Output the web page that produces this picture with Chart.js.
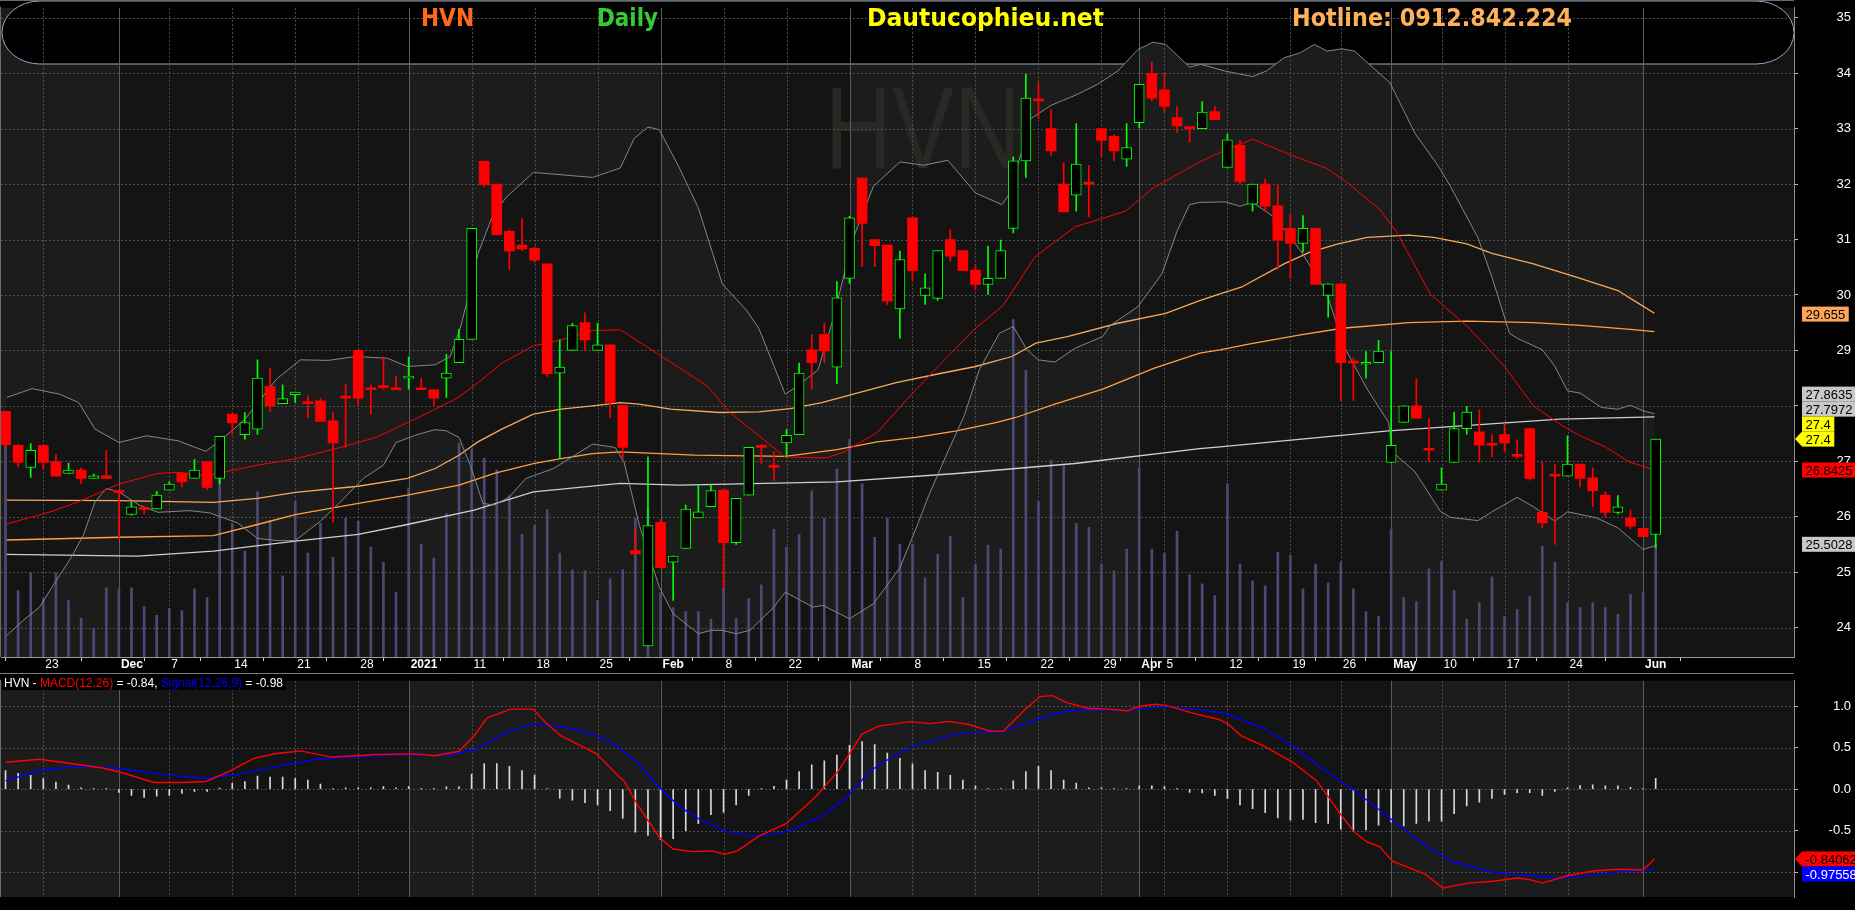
<!DOCTYPE html>
<html><head><meta charset="utf-8">
<script src="https://cdn.jsdelivr.net/npm/chart.js@4.4.0/dist/chart.umd.min.js"></script>
<style>
html,body{margin:0;padding:0;background:#000;width:1855px;height:910px;overflow:hidden}
#main{position:absolute;left:0;top:0}
#macd{position:absolute;left:0;top:673px}
</style></head><body>
<canvas id="main" width="1855" height="673"></canvas>
<canvas id="macd" width="1855" height="237"></canvas>
<script>
// ---------------- DATA ----------------
const dates = [
'2020-11-18','2020-11-19','2020-11-20','2020-11-23','2020-11-24','2020-11-25','2020-11-26','2020-11-27','2020-11-30',
'2020-12-01','2020-12-02','2020-12-03','2020-12-04','2020-12-07','2020-12-08','2020-12-09','2020-12-10','2020-12-11',
'2020-12-14','2020-12-15','2020-12-16','2020-12-17','2020-12-18','2020-12-21','2020-12-22','2020-12-23','2020-12-24',
'2020-12-25','2020-12-28','2020-12-29','2020-12-30','2020-12-31',
'2021-01-04','2021-01-05','2021-01-06','2021-01-07','2021-01-08','2021-01-11','2021-01-12','2021-01-13','2021-01-14',
'2021-01-15','2021-01-18','2021-01-19','2021-01-20','2021-01-21','2021-01-22','2021-01-25','2021-01-26','2021-01-27',
'2021-01-28','2021-01-29',
'2021-02-01','2021-02-02','2021-02-03','2021-02-04','2021-02-05','2021-02-08','2021-02-09','2021-02-17','2021-02-18',
'2021-02-19','2021-02-22','2021-02-23','2021-02-24','2021-02-25','2021-02-26',
'2021-03-01','2021-03-02','2021-03-03','2021-03-04','2021-03-05','2021-03-08','2021-03-09','2021-03-10','2021-03-11',
'2021-03-12','2021-03-15','2021-03-16','2021-03-17','2021-03-18','2021-03-19','2021-03-22','2021-03-23','2021-03-24',
'2021-03-25','2021-03-26','2021-03-29','2021-03-30','2021-03-31',
'2021-04-01','2021-04-02','2021-04-05','2021-04-06','2021-04-07','2021-04-08','2021-04-09','2021-04-12','2021-04-13',
'2021-04-14','2021-04-15','2021-04-16','2021-04-19','2021-04-20','2021-04-22','2021-04-23','2021-04-26','2021-04-27',
'2021-04-28','2021-04-29',
'2021-05-04','2021-05-05','2021-05-06','2021-05-07','2021-05-10','2021-05-11','2021-05-12','2021-05-13','2021-05-14',
'2021-05-17','2021-05-18','2021-05-19','2021-05-20','2021-05-21','2021-05-24','2021-05-25','2021-05-26','2021-05-27',
'2021-05-28','2021-05-31','2021-06-01','2021-06-02'];

const open = [27.9,27.29,26.89,27.29,26.99,26.78,26.84,26.69,26.74,26.44,
 26.04,26.13,26.14,26.48,26.79,26.69,26.99,26.69,27.85,27.48,
 27.58,28.35,28.04,28.2,28.04,28.09,27.73,28.14,29.0,28.29,
 28.33,28.29,28.5,28.29,28.29,28.5,28.78,29.2,32.41,32.0,
 31.15,30.9,30.84,30.56,28.59,29.0,29.5,29.0,29.1,28.01,
 25.39,23.67,25.9,25.18,25.43,25.98,26.18,26.48,25.53,26.39,
 27.25,26.89,27.33,27.48,29.01,29.29,28.7,30.3,32.11,31.0,
 30.9,29.75,31.39,29.99,29.94,31.0,30.8,30.45,30.19,30.3,
 31.2,32.42,33.5,33.0,32.0,31.8,32.0,33.0,32.86,32.45,
 33.11,34.0,33.7,33.2,33.0,33.0,33.31,32.3,32.7,31.64,
 32.0,31.61,31.2,30.93,31.2,29.99,30.2,28.77,28.75,28.78,
 26.98,27.7,28.0,27.2,26.48,26.98,27.59,27.53,27.29,27.48,
 27.09,27.59,26.08,26.73,26.73,26.95,26.7,26.39,26.08,25.98,
 25.79,25.68];
const high = [27.9,27.3,27.32,27.29,27.12,26.97,26.88,26.77,27.2,26.45,
 26.27,26.17,26.46,26.63,26.79,27.03,26.99,27.45,27.85,27.88,
 28.83,28.68,28.38,28.25,28.18,28.13,27.88,28.38,29.0,28.38,
 28.88,28.53,28.88,28.49,28.29,28.93,29.38,31.2,32.41,32.0,
 31.18,31.38,30.87,30.56,29.19,29.49,29.68,29.49,29.1,28.01,
 25.77,27.08,25.95,25.29,26.21,26.57,26.57,26.48,26.33,27.25,
 27.3,27.17,27.57,28.77,29.28,29.49,30.24,31.42,32.11,31.0,
 30.9,30.79,31.39,30.38,30.8,31.18,30.8,30.54,30.88,30.99,
 32.49,33.98,33.83,33.34,32.39,33.09,32.34,33.0,32.89,33.09,
 33.8,34.2,34.0,33.4,33.0,33.49,33.4,32.9,32.79,32.0,
 32.09,31.99,31.45,31.43,31.2,30.2,30.2,28.87,28.98,29.18,
 28.98,28.0,28.49,27.77,26.88,27.89,27.99,27.93,27.48,27.68,
 27.38,27.59,26.98,26.94,27.46,26.95,26.88,26.46,26.38,26.12,
 25.79,27.4];
const low = [27.25,26.9,26.71,26.85,26.73,26.78,26.6,26.69,26.69,25.61,
 26.03,26.05,26.14,26.48,26.54,26.69,26.49,26.59,27.49,27.4,
 27.49,27.9,28.04,28.06,27.79,27.72,25.9,27.25,28.01,27.85,
 28.3,28.29,28.3,28.29,28.01,28.15,28.78,29.2,31.96,31.08,
 30.46,30.8,30.59,28.53,27.05,29.0,29.0,29.0,27.79,27.05,
 25.33,23.67,25.08,24.49,25.43,25.98,26.18,24.7,25.5,26.39,
 26.96,26.65,27.08,27.48,28.3,28.79,28.4,30.21,30.51,30.51,
 29.83,29.22,30.26,29.83,29.9,30.61,30.44,30.09,30.01,30.3,
 31.12,32.12,33.18,32.52,31.5,31.51,31.41,32.51,32.42,32.32,
 33.02,33.5,33.31,32.93,32.76,33.0,33.16,32.3,32.0,31.51,
 31.51,30.46,30.3,30.77,30.19,29.6,28.09,28.1,28.5,28.78,
 26.98,27.7,27.78,26.99,26.48,26.98,27.49,26.99,27.08,27.18,
 27.05,26.66,25.8,25.5,26.73,26.54,26.18,25.99,26.05,25.78,
 25.64,25.44];
const close = [27.3,26.98,27.2,26.98,26.73,26.84,26.69,26.74,26.69,26.44,
 26.18,26.13,26.39,26.59,26.63,26.84,26.53,27.45,27.69,27.7,
 28.5,28.0,28.13,28.25,28.04,27.72,27.33,28.14,28.14,28.29,
 28.33,28.29,28.53,28.29,28.14,28.59,29.2,31.2,31.99,31.09,
 30.79,30.83,30.63,28.58,28.7,29.45,29.19,29.1,28.06,27.25,
 25.33,25.84,25.08,25.29,26.14,26.09,26.47,25.53,26.33,27.25,
 27.25,26.89,27.47,28.59,28.78,28.99,29.95,31.39,31.29,30.89,
 29.89,30.64,30.44,30.13,30.8,30.7,30.44,30.19,30.3,30.8,
 32.42,33.55,33.5,32.6,31.5,32.36,32.0,32.79,32.6,32.66,
 33.8,33.55,33.4,33.05,33.0,33.3,33.16,32.8,32.05,32.0,
 31.6,30.99,30.93,31.2,30.19,30.2,28.78,28.77,28.78,28.99,
 27.29,28.0,27.78,27.2,26.59,27.59,27.89,27.29,27.29,27.33,
 27.09,26.69,25.89,26.73,26.95,26.69,26.47,26.08,26.18,25.83,
 25.64,27.4];
// volume, millions of shares
const volume = [10.7,3.35,4.25,2.95,4.25,2.85,1.95,1.45,3.5,3.45,
 3.5,2.55,2.1,2.45,2.35,3.45,3.0,9.0,6.75,5.35,
 8.35,6.9,4.1,7.85,5.25,6.75,5.05,7.0,6.85,5.55,
 4.8,3.25,8.55,5.7,5.0,7.25,10.8,10.5,10.05,9.45,
 8.15,6.2,6.65,7.45,5.25,4.4,4.35,2.85,3.95,4.4,
 7.0,7.5,3.25,2.5,2.3,2.3,1.9,3.45,1.95,2.95,
 3.65,6.45,5.55,6.2,8.4,7.0,9.5,11.0,8.75,6.05,
 7.0,5.7,5.7,4.0,5.2,6.1,3.0,4.7,5.65,5.45,
 17.05,14.5,7.85,9.95,9.7,6.75,6.55,4.7,4.35,5.45,
 9.55,5.45,5.25,6.35,4.15,3.7,3.1,8.75,4.7,3.85,
 3.6,5.3,5.15,3.45,4.7,3.75,4.8,3.45,2.3,2.05,
 6.45,3.0,2.8,4.45,4.85,3.35,1.9,2.75,4.05,2.05,
 2.4,3.05,5.6,4.8,2.75,2.5,2.75,2.5,2.15,3.15,
 3.25,5.7];
const macdHist = [0.225,0.19,0.167,0.128,0.085,0.05,0.016,0.004,0.004,-0.039,
 -0.074,-0.1,-0.085,-0.074,-0.05,-0.027,-0.027,0.012,0.07,0.093,
 0.159,0.147,0.147,0.132,0.109,0.062,0.004,0.016,0.016,0.016,
 0.031,0.016,0.031,0.004,0.004,0.027,0.027,0.182,0.31,0.31,
 0.275,0.225,0.171,0.008,-0.109,-0.132,-0.163,-0.19,-0.26,-0.353,
 -0.519,-0.558,-0.608,-0.597,-0.5,-0.415,-0.306,-0.279,-0.19,-0.074,
 0.004,0.035,0.109,0.213,0.295,0.341,0.411,0.527,0.574,0.539,
 0.434,0.372,0.306,0.225,0.202,0.167,0.109,0.039,0.008,0.008,
 0.101,0.213,0.275,0.225,0.109,0.074,0.016,0.016,0.008,0.008,
 0.039,0.039,0.031,0.004,-0.039,-0.045,-0.074,-0.112,-0.19,-0.236,
 -0.283,-0.345,-0.372,-0.364,-0.403,-0.411,-0.481,-0.508,-0.492,-0.434,
 -0.395,-0.442,-0.411,-0.384,-0.384,-0.295,-0.202,-0.155,-0.112,-0.062,
 -0.043,-0.043,-0.074,-0.027,0.016,0.043,0.054,0.039,0.039,0.023,
 0.008,0.132];

// indicator lines: [bar index, value]
const ma20 = [[0.1,25.87],[3.6,26.09],[5.8,26.27],[9,26.59],[12.1,26.78],[13.4,26.8],[15.9,26.74],[20,26.93],[23.1,27.05],[26.6,27.25],[29.4,27.43],[32.5,27.76],[35.7,28.12],[37.2,28.36],[39.4,28.77],[41.9,29.08],[44.1,29.19],[46.6,29.36],[48.8,29.37],[49.3,29.3],[51.9,28.92],[55.7,28.36],[57.5,27.88],[59.8,27.46],[61.9,27.08],[65.1,27.06],[66.6,27.17],[69.2,27.52],[72.3,28.3],[74.8,28.89],[77,29.4],[79.2,29.81],[81.7,30.68],[84.9,31.23],[88.9,31.51],[91.1,31.93],[94.8,32.4],[96.8,32.61],[99,32.81],[102.1,32.52],[104.8,32.29],[106.4,32.05],[109.1,31.54],[110.4,31.15],[113.1,30.02],[116.2,29.4],[119,28.71],[121.3,28.0],[123.6,27.64],[125,27.46],[127,27.26],[128.9,26.99],[130.9,26.84]];
const bbUpper = [[0.1,28.15],[2.1,28.31],[4.3,28.21],[5.8,28.06],[7.1,27.58],[9,27.34],[11.2,27.46],[13.7,27.37],[15.9,27.18],[17.5,27.46],[19,27.76],[21.5,28.48],[23.4,28.83],[25.6,28.82],[27.8,28.89],[30.3,28.86],[31.9,28.71],[34.1,28.74],[35.3,28.89],[36.1,29.4],[36.6,29.85],[37.5,30.74],[38.6,31.39],[39.7,31.75],[41.9,32.21],[43.5,32.18],[46.6,32.12],[48.8,32.29],[49.9,32.82],[51,33.03],[51.9,32.98],[53.5,32.29],[55,31.57],[56.9,30.2],[58.8,29.73],[59.8,29.4],[61.9,28.21],[62.9,28.36],[64.5,28.65],[65.6,29.49],[67.3,31.03],[68.9,31.96],[71,32.4],[72.9,32.34],[74.8,32.43],[77,31.84],[79.1,31.63],[79.7,31.82],[81.4,33.18],[83,33.42],[84.9,33.6],[86.7,33.8],[88.3,34.04],[89.9,34.43],[91.1,34.56],[92.1,34.52],[94,34.11],[94.9,34.16],[96.8,34.04],[99,33.94],[100.1,34.04],[101.5,34.28],[102.8,34.37],[103.9,34.52],[104.9,34.4],[106.1,34.44],[107.1,34.4],[108.4,34.13],[109.9,33.83],[111.9,32.91],[113.7,32.34],[114.7,31.96],[116.9,31.03],[118,30.32],[119.4,29.31],[120,29.22],[122,29.01],[123,28.71],[124,28.27],[125,28.23],[126.7,27.97],[128,27.94],[129,28.01],[130,27.91],[130.9,27.86]];
const bbLower = [[0.1,23.86],[1.4,24.13],[2.7,24.37],[4,24.84],[5.2,25.26],[6.2,25.68],[7.1,26.27],[8,26.51],[9,26.45],[10.6,26.21],[12.1,26.08],[14.6,26.11],[16.2,26.07],[18.4,25.89],[20,25.61],[21.5,25.57],[23,25.57],[25,25.92],[26.6,26.27],[28.4,26.69],[30,26.93],[31,27.34],[32.8,27.49],[34.1,27.57],[35,27.55],[36,27.43],[36.9,26.93],[37.9,26.24],[38.8,26.21],[40,26.36],[41.3,26.69],[43.5,26.87],[46.6,27.31],[48.4,27.25],[49.1,26.99],[50.3,25.86],[51.9,24.73],[53,24.25],[55,23.89],[56,23.95],[56.9,23.95],[58,23.89],[59.1,23.95],[61,24.37],[61.9,24.64],[64.1,24.37],[64.9,24.4],[67,24.16],[68.9,24.43],[71,25.08],[72.3,25.8],[73.3,26.39],[74.8,27.17],[76.1,27.82],[77.3,28.65],[78.9,29.31],[80,29.43],[81.1,29.01],[82,28.83],[83.3,28.79],[84.9,29.04],[87.1,29.25],[87.7,29.45],[89.9,29.79],[91.8,30.38],[93,31.15],[94,31.63],[94.8,31.67],[96.8,31.68],[98,31.6],[99,31.67],[100.8,31.39],[102.8,30.8],[104.8,30.08],[105.8,29.4],[106.4,29.01],[108.1,28.3],[109.8,27.7],[110.1,27.17],[111.9,26.81],[113.9,26.1],[114.7,25.99],[116.9,25.93],[118,26.09],[120,26.35],[121.3,26.18],[123,25.92],[124,26.09],[126.3,25.98],[128,25.8],[130,25.41],[130.9,25.47]];
const sma50 = [[0.1,26.3],[9,26.29],[16.5,26.26],[20,26.33],[23,26.44],[28,26.55],[31.9,26.69],[34.1,26.87],[36,27.11],[37.5,27.35],[39.4,27.58],[41.9,27.85],[44.1,27.94],[46.6,28.0],[48.8,28.06],[50.3,28.03],[52.8,27.94],[56.7,27.88],[59.8,27.89],[62.3,27.95],[64.8,28.06],[67.3,28.21],[70.7,28.42],[73.9,28.57],[77,28.71],[79.9,28.89],[81.8,29.13],[84.3,29.25],[88.3,29.49],[92.1,29.67],[94.8,29.9],[96.4,30.02],[98.1,30.14],[101.5,30.56],[103.5,30.77],[105.8,30.92],[108.1,31.04],[111.4,31.08],[113.4,31.04],[116,30.92],[118,30.75],[121.3,30.56],[124.7,30.32],[128,30.08],[129.7,29.84],[130.9,29.67]];
const sma100 = [[0.1,25.58],[9,25.63],[16.5,25.66],[20,25.86],[23,26.04],[28,26.24],[31.9,26.39],[36,26.57],[38.8,26.78],[41.9,26.96],[44.1,27.05],[46.6,27.14],[48.8,27.17],[54.7,27.11],[61.9,27.09],[66,27.21],[69.2,27.35],[72.3,27.43],[75.5,27.55],[78.7,27.7],[80.2,27.79],[83.3,28.03],[87.1,28.3],[91.2,28.68],[94.8,28.95],[96.4,29.01],[98.8,29.12],[102.8,29.28],[106.1,29.4],[111.4,29.5],[116,29.53],[121.3,29.5],[125,29.45],[129,29.38],[130.9,29.34]];
const sma200 = [[0.1,25.32],[10.5,25.29],[16.5,25.38],[23,25.56],[28,25.68],[31.9,25.86],[37.2,26.12],[41.9,26.45],[48.8,26.6],[53.5,26.57],[66,26.63],[75.5,26.78],[84.9,26.96],[94.8,27.23],[96.4,27.26],[109.8,27.55],[123.4,27.76],[130.9,27.8]];
const macdLine = [[0,0.325],[2.7,0.36],[5.2,0.31],[7.7,0.255],[9,0.21],[11.8,0.081],[14,0.081],[15.9,0.093],[17.8,0.217],[19.7,0.372],[21.5,0.43],[23.4,0.461],[25.9,0.387],[27.8,0.403],[29.4,0.418],[32.5,0.426],[34.1,0.403],[36,0.457],[37.2,0.643],[38.2,0.856],[40.1,0.965],[41.9,0.965],[42.9,0.798],[44.1,0.643],[46.9,0.43],[48.8,0.139],[49.1,0.1],[50.1,-0.171],[51.9,-0.578],[53,-0.721],[54.5,-0.752],[56.1,-0.744],[57.1,-0.783],[58.1,-0.744],[59.8,-0.566],[62,-0.411],[64.3,-0.093],[66.1,0.217],[68,0.663],[69.3,0.76],[71.8,0.814],[73.4,0.79],[74.9,0.817],[76.5,0.779],[78.1,0.701],[79.2,0.697],[80.9,0.953],[82.1,1.116],[83.1,1.127],[84.2,1.046],[85.9,0.976],[87.5,0.965],[89.1,0.946],[90,1.0],[91.3,1.023],[92.3,1.004],[94.1,0.922],[96.4,0.837],[97.1,0.779],[98.1,0.643],[99.8,0.527],[102.1,0.333],[104.1,0.1],[106.1,-0.326],[107.1,-0.52],[108.1,-0.636],[109.1,-0.694],[110.1,-0.868],[111.4,-0.946],[112.7,-1.023],[114.1,-1.19],[116.1,-1.132],[118.1,-1.109],[120,-1.07],[121,-1.09],[122,-1.132],[124,-1.043],[126,-0.985],[128,-0.965],[130,-0.973],[130.9,-0.841]];
const signalLine = [[0,0.1],[2.7,0.225],[5.8,0.275],[8.7,0.255],[13.1,0.167],[15.9,0.132],[18.4,0.178],[21.5,0.275],[24.7,0.36],[27.8,0.391],[30.9,0.411],[35,0.411],[37.2,0.469],[39.7,0.682],[41.9,0.79],[45.1,0.728],[47.3,0.624],[48.8,0.496],[50.3,0.295],[51.9,0.023],[53.5,-0.21],[55.1,-0.364],[57,-0.5],[59.2,-0.566],[60.7,-0.55],[62.3,-0.5],[64.8,-0.326],[66.8,-0.093],[68.6,0.217],[70.8,0.43],[72.3,0.527],[74.9,0.643],[77,0.69],[79.2,0.69],[81.8,0.837],[83.4,0.915],[85.9,0.961],[89.1,0.953],[92,0.992],[94.4,0.965],[96.8,0.915],[99.8,0.74],[102.1,0.527],[104.8,0.217],[107.1,-0.016],[109.7,-0.326],[112.1,-0.616],[114.8,-0.868],[118.1,-1.004],[121.4,-1.043],[123,-1.07],[124.7,-1.062],[128,-0.996],[130,-0.977],[130.9,-0.966]];

// axis ticks
const tickIndex  = [3,9,13,18,23,28,32,37,42,47,52,57,62,67,72,77,82,87,90,92,97,102,106,110,114,119,124,130];
const tickLabels = ['23','Dec','7','14','21','28','2021','11','18','25','Feb','8','22','Mar','8','15','22','29','Apr','5','12','19','26','May','10','17','24','Jun'];
const monthStartIndex = [9,32,52,67,90,110,130];
const priceTicks = [24,25,26,27,28,29,30,31,32,33,34,35];
const macdTicks = [-1,-0.5,0,0.5,1];
// right-axis value tags
const priceTagValues = [29.655,27.8635,27.7972,27.4,27.4,26.8425,25.5028];
const priceTagTexts  = ['29.655','27.8635','27.7972','27.4','27.4','26.8425','25.5028'];
const macdTagValues  = [-0.840620,-0.975589];
const macdTagTexts   = ['-0.840620','-0.975589'];
const titleTexts = ['HVN','Daily','Dautucophieu.net','Hotline: 0912.842.224'];
const macdLegend = ['HVN - ','MACD(12,26)',' = -0.84, ','Signal(12,26,9)',' = -0.98'];

// ---------------- STYLE ----------------
const X_MIN = -0.36, X_MAX = 141.98;
const PRICE_MIN = 23.47, PRICE_MAX = 35.18;
const MACD_MIN = -1.299, MACD_MAX = 1.306;
const VOL_MAX = 32.8;
const LIGHT = '#1c1c1c', DARK = '#141414';
const FONT = '"Liberation Sans", Arial, sans-serif';
const priceTagStyle = [
  {bg:'#ffa55a',fg:'#000'},{bg:'#c8c8c8',fg:'#000'},{bg:'#c8c8c8',fg:'#000'},
  {bg:'#ffff00',fg:'#000'},{bg:'#ffff00',fg:'#000',arrow:true},{bg:'#ff0000',fg:'#000'},{bg:'#c8c8c8',fg:'#000'}];
const macdTagStyle = [{bg:'#ff0000',fg:'#000',arrow:true},{bg:'#0000ff',fg:'#fff'}];
const titleStyle = [
  {x:421,w:53,color:'#ff6a1a'},{x:597,w:61,color:'#33cc33'},{x:867,w:237,color:'#ffff00'},{x:1292,w:280,color:'#ffb05a'}];
const legendColors = ['#ffffff','#ff0000','#ffffff','#0000ff','#ffffff'];
const monthSet = new Set(monthStartIndex);
const pts = arr => arr.map(([x,y]) => ({x, y}));

// ---------------- HELPERS ----------------
function fitText(ctx, text, x, y, w, font, color){
  ctx.save(); ctx.font = font; const m = ctx.measureText(text).width;
  ctx.translate(x, y); ctx.scale(w/m, 1); ctx.fillStyle = color; ctx.textBaseline = 'alphabetic';
  ctx.fillText(text, 0, 0); ctx.restore();
}
function monthBounds(chart){
  const a = chart.chartArea, x = chart.scales.x;
  return [a.left, ...monthStartIndex.map(i => x.getPixelForValue(i)), a.right];
}
function drawMonthBg(chart){
  const {ctx, chartArea:a} = chart; const b = monthBounds(chart);
  ctx.save();
  for (let k=0;k<b.length-1;k++){ ctx.fillStyle = k%2===0?LIGHT:DARK; ctx.fillRect(b[k], a.top, b[k+1]-b[k], a.bottom-a.top); }
  ctx.restore();
}
function drawGrid(chart, yTicks){
  const {ctx, chartArea:a, scales:{x,y}} = chart;
  ctx.save(); ctx.lineWidth = 1;
  ctx.strokeStyle = '#4f4f4f'; ctx.setLineDash([2,2]);
  yTicks.forEach(v => { const py = Math.round(y.getPixelForValue(v))+0.5; ctx.beginPath(); ctx.moveTo(a.left,py); ctx.lineTo(a.right,py); ctx.stroke(); });
  tickIndex.forEach(i => { if (monthSet.has(i)) return; const px = Math.round(x.getPixelForValue(i))+0.5; ctx.beginPath(); ctx.moveTo(px,a.top); ctx.lineTo(px,a.bottom); ctx.stroke(); });
  ctx.setLineDash([]); ctx.strokeStyle = '#5c5c5c';
  monthStartIndex.forEach(i => { const px = Math.round(x.getPixelForValue(i))+0.5; ctx.beginPath(); ctx.moveTo(px,a.top); ctx.lineTo(px,a.bottom); ctx.stroke(); });
  ctx.strokeStyle = '#6a6a6a';
  ctx.beginPath(); ctx.moveTo(0.5, a.top-1); ctx.lineTo(0.5, a.bottom); ctx.stroke();
  ctx.restore();
}
function drawTags(chart, scale, values, texts, styles){
  const ctx = chart.ctx; const H = 15, X0 = 1802;
  const items = values.map((v,k) => ({v, t:texts[k], s:styles[k], py: scale.getPixelForValue(v)}));
  const anchor = items.find(it => it.s.arrow); anchor.y = anchor.py;
  const above = items.filter(it => it !== anchor && it.v >= anchor.v).sort((p,q) => q.py - p.py);
  const below = items.filter(it => it !== anchor && it.v < anchor.v).sort((p,q) => p.py - q.py);
  let prev = anchor.y; above.forEach(it => { it.y = Math.min(it.py, prev - H); prev = it.y; });
  prev = anchor.y; below.forEach(it => { it.y = Math.max(it.py, prev + H); prev = it.y; });
  ctx.save(); ctx.font = '13px ' + FONT; ctx.textBaseline = 'middle';
  items.forEach(it => {
    const w = ctx.measureText(it.t).width + 7;
    ctx.fillStyle = it.s.bg; ctx.fillRect(X0, it.y - H/2, w, H);
    if (it.s.arrow){ ctx.beginPath(); ctx.moveTo(1795, it.y); ctx.lineTo(X0, it.y - H/2); ctx.lineTo(X0, it.y + H/2); ctx.closePath(); ctx.fill(); }
    ctx.fillStyle = it.s.fg; ctx.fillText(it.t, X0 + 3.5, it.y + 1);
  });
  ctx.restore();
}

// ---------------- MAIN CHART ----------------
const upBar = close.map((c,i) => c > open[i]);
const mainPlugin = {
  id: 'mainDecor',
  beforeDraw(chart){
    const {ctx, chartArea:a, scales:{x,y}} = chart;
    drawMonthBg(chart);
    ctx.save();
    const l = 2, r = a.right, t = 1, b = 64, rx = 38, ry = (b-t)/2, cy = t+ry;
    ctx.beginPath();
    ctx.moveTo(l+rx, t); ctx.lineTo(r-rx, t);
    ctx.ellipse(r-rx, cy, rx, ry, 0, -Math.PI/2, Math.PI/2);
    ctx.lineTo(l+rx, b);
    ctx.ellipse(l+rx, cy, rx, ry, 0, Math.PI/2, Math.PI*1.5);
    ctx.closePath(); ctx.fillStyle = '#000'; ctx.fill();
    ctx.strokeStyle = '#8fa7c9'; ctx.lineWidth = 1; ctx.stroke();
    ctx.restore();
    const mb = monthBounds(chart);
    for (let k=0;k<mb.length-1;k++){
      ctx.save(); ctx.beginPath(); ctx.rect(mb[k], a.top, mb[k+1]-mb[k], a.bottom-a.top); ctx.clip();
      ctx.beginPath();
      bbUpper.forEach(([i,v],n) => { const px = x.getPixelForValue(i), py = y.getPixelForValue(v); n ? ctx.lineTo(px,py) : ctx.moveTo(px,py); });
      for (let n=bbLower.length-1;n>=0;n--){ ctx.lineTo(x.getPixelForValue(bbLower[n][0]), y.getPixelForValue(bbLower[n][1])); }
      ctx.closePath(); ctx.fillStyle = k%2===0 ? DARK : LIGHT; ctx.fill(); ctx.restore();
    }
    fitText(ctx, 'HVN', 825, 168, 196, '116px ' + FONT, '#2a2824');
    drawGrid(chart, priceTicks);
    ctx.save(); ctx.strokeStyle = '#6a6a6a'; ctx.beginPath(); ctx.moveTo(0, 0.5); ctx.lineTo(a.right, 0.5); ctx.stroke(); ctx.restore();
  },
  afterDraw(chart){
    const ctx = chart.ctx;
    titleTexts.forEach((t,k) => fitText(ctx, t, titleStyle[k].x, 26, titleStyle[k].w, 'bold 25px "DejaVu Sans", sans-serif', titleStyle[k].color));
    drawTags(chart, chart.scales.y, priceTagValues, priceTagTexts, priceTagStyle);
  }
};

new Chart(document.getElementById('main'), {
  type: 'bar',
  data: { datasets: [
    { type:'bar', label:'Volume', data: volume.map((v,i)=>({x:i,y:v})), yAxisID:'yVol', grouped:false, barThickness:2, backgroundColor:'#4a4a74', order:20 },
    { type:'line', label:'SMA200', data: pts(sma200), yAxisID:'y', borderColor:'#cfcfcf', borderWidth:1.3, pointRadius:0, tension:0, order:15 },
    { type:'line', label:'SMA100', data: pts(sma100), yAxisID:'y', borderColor:'#ff9f45', borderWidth:1.3, pointRadius:0, tension:0, order:14 },
    { type:'line', label:'SMA50', data: pts(sma50), yAxisID:'y', borderColor:'#f5a860', borderWidth:1.3, pointRadius:0, tension:0, order:13 },
    { type:'line', label:'BB upper', data: pts(bbUpper), yAxisID:'y', borderColor:'#858585', borderWidth:1, pointRadius:0, tension:0, order:12 },
    { type:'line', label:'BB lower', data: pts(bbLower), yAxisID:'y', borderColor:'#858585', borderWidth:1, pointRadius:0, tension:0, order:11 },
    { type:'line', label:'MA20', data: pts(ma20), yAxisID:'y', borderColor:'#ff0000', borderWidth:1, pointRadius:0, tension:0, order:10 },
    { type:'bar', label:'Wick', data: dates.map((d,i)=>({x:i,y:[low[i],high[i]]})), yAxisID:'y', grouped:false, barThickness:1, minBarLength:1,
      backgroundColor: upBar.map(u => u ? '#00ff00' : '#ff0000'), borderWidth:0, order:5 },
    { type:'bar', label:'Body', data: dates.map((d,i)=>({x:i,y:[open[i],close[i]]})), yAxisID:'y', grouped:false, barThickness:10, minBarLength:2,
      backgroundColor: upBar.map(u => u ? '#000000' : '#ff0000'), borderColor: upBar.map(u => u ? '#00ff00' : '#ff0000'),
      borderWidth: upBar.map(u => u ? 1 : 0), borderSkipped:false, order:4 }
  ]},
  options: {
    responsive:false, animation:false, events:[],
    layout:{ padding:{ left:1, top:1, right:4, bottom:0 } },
    plugins:{ legend:{display:false}, tooltip:{enabled:false} },
    scales:{
      x:{ type:'linear', min:X_MIN, max:X_MAX, offset:false, position:'bottom',
          afterBuildTicks: s => { s.ticks = tickIndex.map(v => ({value:v})); },
          afterFit: s => { s.height = 16; },
          ticks:{ autoSkip:false, maxRotation:0, minRotation:0, align:'start', labelOffset:2, padding:-4, color:'#ffffff',
                  font: c => ({ family:FONT, size:12, weight: (c.tick && monthSet.has(c.tick.value)) ? 'bold' : 'normal' }),
                  callback: (v, i) => tickLabels[i] },
          grid:{ drawOnChartArea:false, drawTicks:true, tickLength:4, tickColor:'#d0d0d0' },
          border:{ display:true, color:'#9a9a9a' } },
      y:{ position:'right', min:PRICE_MIN, max:PRICE_MAX,
          afterBuildTicks: s => { s.ticks = priceTicks.map(v => ({value:v})); },
          afterFit: s => { s.width = 57; },
          ticks:{ color:'#ffffff', crossAlign:'far', padding:0, font:{family:FONT,size:13}, callback: v => String(v) },
          grid:{ drawOnChartArea:false, drawTicks:true, tickLength:4, tickColor:'#bdbdbd' },
          border:{ display:true, color:'#8a8a8a' } },
      yVol:{ display:false, min:0, max:VOL_MAX }
    }
  },
  plugins:[mainPlugin]
});

// ---------------- MACD CHART ----------------
const macdPlugin = {
  id: 'macdDecor',
  beforeDraw(chart){
    drawMonthBg(chart);
    drawGrid(chart, macdTicks);
    const {ctx, chartArea:a} = chart;
    ctx.save(); ctx.strokeStyle = '#7a7a7a'; ctx.beginPath(); ctx.moveTo(0, 0.5); ctx.lineTo(a.right, 0.5); ctx.stroke(); ctx.restore();
  },
  afterDraw(chart){
    const ctx = chart.ctx;
    ctx.save(); ctx.font = '13px ' + FONT;
    const full = macdLegend.join(''); const W = ctx.measureText(full).width; const sc = 279 / W;
    ctx.fillStyle = '#000'; ctx.fillRect(2, 2, 284, 15);
    ctx.translate(4, 14); ctx.scale(sc, 1);
    let xx = 0;
    macdLegend.forEach((t,k) => { ctx.fillStyle = legendColors[k]; ctx.fillText(t, xx, 0); xx += ctx.measureText(t).width; });
    ctx.restore();
    drawTags(chart, chart.scales.y, macdTagValues, macdTagTexts, macdTagStyle);
  }
};

new Chart(document.getElementById('macd'), {
  type: 'bar',
  data: { datasets: [
    { type:'bar', label:'Histogram', data: macdHist.map((v,i)=>({x:i,y:v})), grouped:false, barThickness:1, backgroundColor:'#d8d8d8', order:3 },
    { type:'line', label:'Signal(12,26,9)', data: pts(signalLine), borderColor:'#0000ff', borderWidth:1.4, pointRadius:0, tension:0, order:2 },
    { type:'line', label:'MACD(12,26)', data: pts(macdLine), borderColor:'#ff0000', borderWidth:1.4, pointRadius:0, tension:0, order:1 }
  ]},
  options: {
    responsive:false, animation:false, events:[],
    layout:{ padding:{ left:1, top:0, right:4, bottom:13 } },
    plugins:{ legend:{display:false}, tooltip:{enabled:false} },
    scales:{
      x:{ type:'linear', min:X_MIN, max:X_MAX, offset:false, display:false },
      y:{ position:'right', min:MACD_MIN, max:MACD_MAX,
          afterBuildTicks: s => { s.ticks = macdTicks.map(v => ({value:v})); },
          afterFit: s => { s.width = 57; },
          ticks:{ color:'#ffffff', crossAlign:'far', padding:0, font:{family:FONT,size:13}, callback: v => Number(v).toFixed(1) },
          grid:{ drawOnChartArea:false, drawTicks:true, tickLength:4, tickColor:'#bdbdbd' },
          border:{ display:true, color:'#8a8a8a' } }
    }
  },
  plugins:[macdPlugin]
});
</script></body></html>
